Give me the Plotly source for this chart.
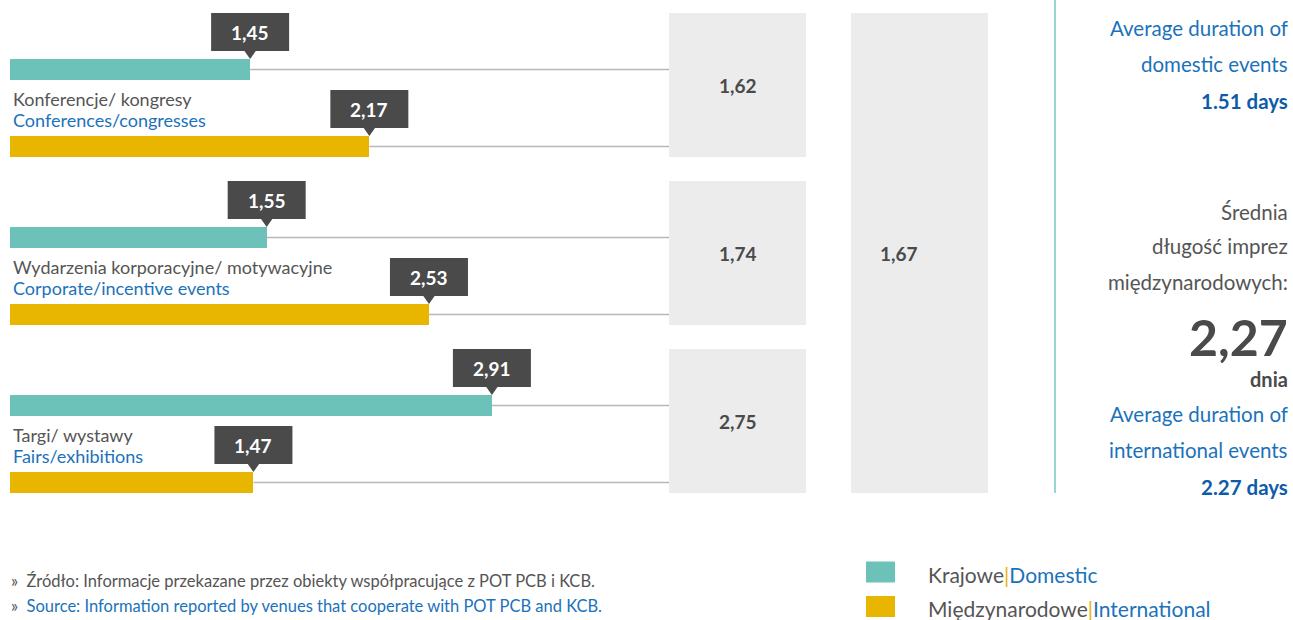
import plotly.graph_objects as go

# ---------------- data ----------------
categories_pl = ["Konferencje/ kongresy", "Wydarzenia korporacyjne/ motywacyjne", "Targi/ wystawy"]
categories_en = ["Conferences/congresses", "Corporate/incentive events", "Fairs/exhibitions"]
domestic = [1.45, 1.55, 2.91]
international = [2.17, 2.53, 1.47]
category_avg = [1.62, 1.74, 2.75]
overall_avg = 1.67
domestic_avg_text = "1.51 days"
intl_avg_pl = "2,27"
intl_avg_en = "2.27 days"
series_pl = ["Krajowe", "Międzynarodowe"]
series_en = ["Domestic", "International"]

# ---------------- style ----------------
W, H = 1293, 620
TEAL = "#6cc2b8"
GOLD = "#e8b500"
DARK = "#4a4a4a"
BOXGRAY = "#ececec"
LINEGRAY = "#b8b8b8"
BLUE = "#1b72bb"
BLUE_B = "#0d5ca8"
TXT = "#555555"
FONT = "Lato"
S = 165.6          # px per unit
X0PX = 10          # pixel position of value 0

def px2x(px):
    return (px - X0PX) / S

def fmt(v):
    return f"{v:.2f}".replace(".", ",")

def PX(px):
    return px / W

GROUP = 168
dom_c = [69.5 + GROUP * i for i in range(3)]
int_c = [146.5 + GROUP * i for i in range(3)]
BARH = 21

fig = go.Figure()
fig.add_trace(go.Bar(x=domestic, y=dom_c, orientation="h", width=BARH, base=0,
                     marker=dict(color=TEAL, line=dict(width=0)), name="Krajowe | Domestic",
                     hoverinfo="x"))
fig.add_trace(go.Bar(x=international, y=int_c, orientation="h", width=BARH, base=0,
                     marker=dict(color=GOLD, line=dict(width=0)), name="Międzynarodowe | International",
                     hoverinfo="x"))

shapes = []
ann = []

def callout(v, yc):
    top = yc - BARH / 2
    shapes.append(dict(type="line", xref="x", yref="y", x0=v, x1=px2x(669), y0=yc, y1=yc,
                       line=dict(color=LINEGRAY, width=1.5), layer="below"))
    shapes.append(dict(type="rect", xref="x", yref="y", x0=v - 39 / S, x1=v + 39 / S,
                       y0=top - 46, y1=top - 8, fillcolor=DARK, line=dict(width=0)))
    shapes.append(dict(type="path", xref="x", yref="y",
                       path=f"M {v - 6 / S},{top - 8.5} L {v},{top} L {v + 6 / S},{top - 8.5} Z",
                       fillcolor=DARK, line=dict(width=0)))
    ann.append(dict(xref="x", yref="y", x=v, y=top - 27, text=f"<b>{fmt(v)}</b>",
                    showarrow=False, font=dict(family=FONT, size=19, color="white")))

for i in range(3):
    callout(domestic[i], dom_c[i])
    callout(international[i], int_c[i])
    # category labels
    ann.append(dict(xref="paper", yref="y", x=PX(11), y=99 + GROUP * i, xanchor="left",
                    text=categories_pl[i], showarrow=False,
                    font=dict(family=FONT, size=18, color=TXT)))
    ann.append(dict(xref="paper", yref="y", x=PX(11), y=120 + GROUP * i, xanchor="left",
                    text=categories_en[i], showarrow=False,
                    font=dict(family=FONT, size=18, color=BLUE)))
    # average gray boxes
    shapes.append(dict(type="rect", xref="paper", yref="y", x0=PX(669), x1=PX(806),
                       y0=13 + GROUP * i, y1=157 + GROUP * i, fillcolor=BOXGRAY,
                       line=dict(width=0), layer="below"))
    ann.append(dict(xref="paper", yref="y", x=PX(737.5), y=85 + GROUP * i,
                    text=f"<b>{fmt(category_avg[i])}</b>", showarrow=False,
                    font=dict(family=FONT, size=19, color=DARK)))

# big overall box
shapes.append(dict(type="rect", xref="paper", yref="y", x0=PX(851), x1=PX(988), y0=13, y1=493,
                   fillcolor=BOXGRAY, line=dict(width=0), layer="below"))
ann.append(dict(xref="paper", yref="y", x=PX(919.5), y=253, text=f"<b>{fmt(overall_avg)}</b>",
                showarrow=False, font=dict(family=FONT, size=19, color=DARK)))

# vertical divider
shapes.append(dict(type="line", xref="paper", yref="y", x0=PX(1055), x1=PX(1055), y0=0, y1=493,
                   line=dict(color="#9ad6d0", width=2)))

# right text column
right = [
    ("Average duration of", 28, 20.5, BLUE, False),
    ("domestic events", 64, 20.5, BLUE, False),
    (domestic_avg_text, 101, 20.5, BLUE_B, True),
    ("Średnia", 212, 20.5, TXT, False),
    ("długość imprez", 246, 20.5, TXT, False),
    ("międzynarodowych:", 282, 20.5, TXT, False),
    (intl_avg_pl, 337, 50, DARK, True),
    ("dnia", 379, 20, DARK, True),
    ("Average duration of", 414, 20.5, BLUE, False),
    ("international events", 450, 20.5, BLUE, False),
    (intl_avg_en, 487, 20.5, BLUE_B, True),
]
for t, y, s, c, b in right:
    ann.append(dict(xref="paper", yref="y", x=PX(1290), y=y, xanchor="right", yanchor="middle",
                    text=f"<b>{t}</b>" if b else t, showarrow=False,
                    font=dict(family=FONT, size=s, color=c)))

# footnotes
ann.append(dict(xref="paper", yref="y", x=PX(9), y=581, xanchor="left", showarrow=False,
                text="»  Źródło: Informacje przekazane przez obiekty współpracujące z POT PCB i KCB.",
                font=dict(family=FONT, size=16.5, color=TXT)))
ann.append(dict(xref="paper", yref="y", x=PX(9), y=606, xanchor="left", showarrow=False,
                text="»  <span style='color:%s'>Source: Information reported by venues that cooperate with POT PCB and KCB.</span>" % BLUE,
                font=dict(family=FONT, size=16.5, color=TXT)))

# legend
for j, (col, yc) in enumerate([(TEAL, 572), (GOLD, 606.5)]):
    shapes.append(dict(type="rect", xref="paper", yref="y", x0=PX(866), x1=PX(895),
                       y0=yc - 10.5, y1=yc + 10.5, fillcolor=col, line=dict(width=0)))
    ann.append(dict(xref="paper", yref="y", x=PX(926), y=yc + 2, xanchor="left", showarrow=False,
                    text=f"{series_pl[j]}<span style='color:{GOLD}'>|</span><span style='color:{BLUE}'>{series_en[j]}</span>",
                    font=dict(family=FONT, size=21, color=TXT)))

fig.update_layout(
    width=W, height=H, margin=dict(l=0, r=0, t=0, b=0),
    paper_bgcolor="white", plot_bgcolor="white", showlegend=False,
    xaxis=dict(range=[px2x(0), px2x(W)], visible=False, fixedrange=True),
    yaxis=dict(range=[H, 0], visible=False, fixedrange=True),
    shapes=shapes, annotations=ann, bargap=0,
)
fig.write_html("out.html", config={"displayModeBar": False},
               post_script="document.body.style.margin='0';document.body.style.overflow='hidden';")
